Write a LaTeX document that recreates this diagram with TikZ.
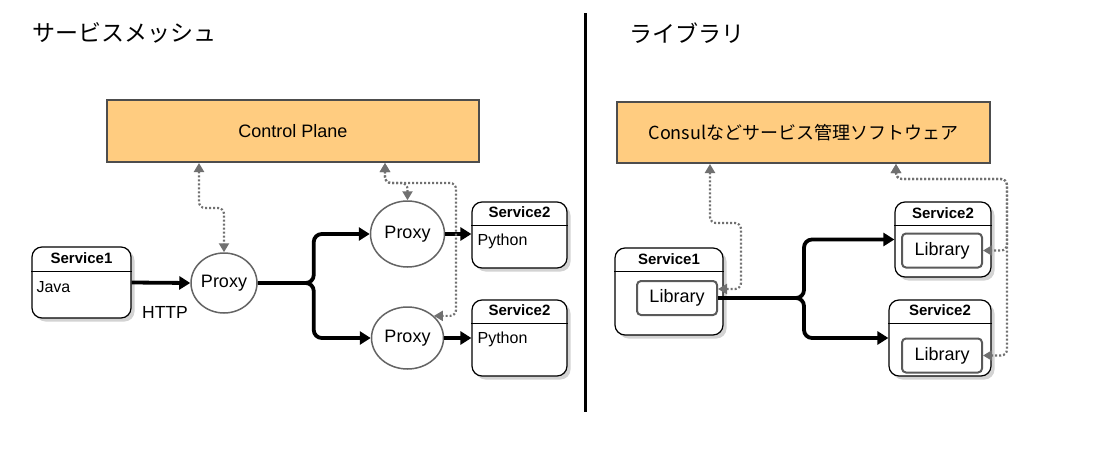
\documentclass[tikz,border=0pt]{standalone}
\usepackage{fontspec}
\setmainfont{Liberation Sans}
\newfontfamily\jpfont{Noto Sans CJK JP}
\usepackage{xcolor}
\usepackage{tikz}
\usetikzlibrary{arrows.meta,shapes.geometric,shadows,positioning}
\definecolor{planefill}{RGB}{255,204,128}
\definecolor{planeedge}{RGB}{77,77,77}
\definecolor{proxyedge}{RGB}{100,100,100}
\definecolor{libedge}{RGB}{90,90,90}
\definecolor{dotgray}{RGB}{112,112,112}
\newcommand{\pxfont}[1]{\fontsize{#1pt}{#1pt}\selectfont}

\begin{document}
\begin{tikzpicture}[x=1pt,y=-1pt,
                    plane/.style={draw=planeedge, fill=planefill, line width=2pt, inner sep=0pt},
                    title/.style={font=\jpfont\pxfont{23}, anchor=west, inner sep=0pt},
                    svcbox/.style={draw=black, fill=white, line width=1.2pt, rounded corners=10pt, inner sep=0pt,
                                   drop shadow={shadow xshift=3.5pt, shadow yshift=-3.5pt, opacity=0.35}},
                    svcname/.style={font=\pxfont{15}\bfseries, anchor=base, inner sep=0pt},
                    svclang/.style={font=\pxfont{16}, anchor=base west, inner sep=0pt},
                    proxy/.style={ellipse, draw=proxyedge, line width=1.5pt, fill=white, inner sep=0pt, font=\pxfont{18}},
                    lib/.style={draw=libedge, line width=2pt, rounded corners=4pt, fill=white,
                                minimum width=80pt, minimum height=34pt, inner sep=0pt, font=\pxfont{18}},
                    header/.style={line width=0.8pt},
                    flow/.style={line width=3.8pt, rounded corners=8pt, -{Triangle[length=11pt,width=13pt]}},
                    ctrl/.style={dotgray, line width=2.2pt, dash pattern=on 2pt off 2pt, rounded corners=6pt,
                                 {Triangle[length=9pt,width=10pt]}-{Triangle[length=9pt,width=10pt]}},
                   ]

\useasboundingbox (0,0) rectangle (1100,455);

\node[title] (meshtitle) at (32,33) {サービスメッシュ};
\node[title] (libtitle) at (629,33) {ライブラリ};

\draw[line width=3pt] (585,13) -- (585,412);

% service mesh
\node[plane, minimum width=372pt, minimum height=62pt, font=\pxfont{18}] (cp) at (293,131) {Control Plane};

\node[svcbox, minimum width=99pt, minimum height=71pt] (s1) at (81.5,282.5) {};
\node[svcname] (s1name) at ([yshift=-17.5pt]s1.north) {Service1};
\draw[header] ([yshift=-25pt]s1.north west) -- ([yshift=-25pt]s1.north east);
\node[svclang] (s1lang) at ([xshift=5pt,yshift=-46pt]s1.north west) {Java};

\node[proxy, minimum width=66pt, minimum height=60pt] (p1) at (224,283) {Proxy};
\node[proxy, minimum width=74pt, minimum height=66pt] (p2) at (407.5,234) {Proxy};
\node[proxy, minimum width=72pt, minimum height=62pt] (p3) at (407.5,338) {Proxy};
\node[font=\pxfont{17.5}, inner sep=0pt] (http) at (165,312) {HTTP};

\node[svcbox, minimum width=95pt, minimum height=66pt] (s2a) at (519.5,235) {};
\node[svcname] (s2aname) at ([yshift=-16.5pt]s2a.north) {Service2};
\draw[header] ([yshift=-24pt]s2a.north west) -- ([yshift=-24pt]s2a.north east);
\node[svclang] (s2alang) at ([xshift=6pt,yshift=-44pt]s2a.north west) {Python};

\node[svcbox, minimum width=95pt, minimum height=76pt] (s2b) at (519.5,338) {};
\node[svcname] (s2bname) at ([yshift=-16.5pt]s2b.north) {Service2};
\draw[header] ([yshift=-24pt]s2b.north west) -- ([yshift=-24pt]s2b.north east);
\node[svclang] (s2blang) at ([xshift=6pt,yshift=-44pt]s2b.north west) {Python};

\draw[flow] (s1.east) -- (p1.west);
\draw[flow] (p1.east) -- ++(56,0) |- (p2.west);
\draw[flow] (p1.east) -- ++(56,0) |- (p3.west);
\draw[flow] (p2.east) -- (p2.east -| s2a.west);
\draw[flow] (p3.east) -- (p3.east -| s2b.west);

\draw[ctrl] ([xshift=93pt]cp.south west) -- ++(0,45) -| (p1.north);
\draw[ctrl] ([xshift=279pt]cp.south west) -- ++(0,20) -| (p2.north);
\draw[ctrl] ([xshift=279pt]cp.south west) -- ++(0,20) -- ++(71,0) |- (p3.40);

% library
\node[plane, minimum width=373pt, minimum height=61pt, font=\jpfont\pxfont{18}] (cs) at (803.5,132.5) {Consulなどサービス管理ソフトウェア};

\node[svcbox, minimum width=108pt, minimum height=87pt] (r1) at (669,291.5) {};
\node[svcname] (r1name) at ([yshift=-17.5pt]r1.north) {Service1};
\draw[header] ([yshift=-24pt]r1.north west) -- ([yshift=-24pt]r1.north east);
\node[lib] (lib1) at (677,298) {Library};

\node[svcbox, minimum width=96pt, minimum height=75pt] (r2a) at (943,239.5) {};
\node[svcname] (r2aname) at ([yshift=-17.5pt]r2a.north) {Service2};
\draw[header] ([yshift=-24pt]r2a.north west) -- ([yshift=-24pt]r2a.north east);
\node[lib] (lib2) at (942,250.5) {Library};

\node[svcbox, minimum width=102pt, minimum height=76pt] (r2b) at (940,338) {};
\node[svcname] (r2bname) at ([yshift=-16.5pt]r2b.north) {Service2};
\draw[header] ([yshift=-24pt]r2b.north west) -- ([yshift=-24pt]r2b.north east);
\node[lib] (lib3) at (942,355.5) {Library};

\draw[flow] (lib1.east) -- ++(86,0) |- (r2a.west);
\draw[flow] (lib1.east) -- ++(86,0) |- (r2b.west);

\draw[ctrl] ([xshift=94pt]cs.south west) -- ++(0,59) -- ++(31,0) |- ([yshift=9pt]lib1.east);
\draw[ctrl] ([xshift=280pt]cs.south west) -- ++(0,15) -- ++(111,0) |- (lib2.east);
\draw[ctrl] ([xshift=280pt]cs.south west) -- ++(0,15) -- ++(111,0) |- (lib3.east);

\end{tikzpicture}
\end{document}
